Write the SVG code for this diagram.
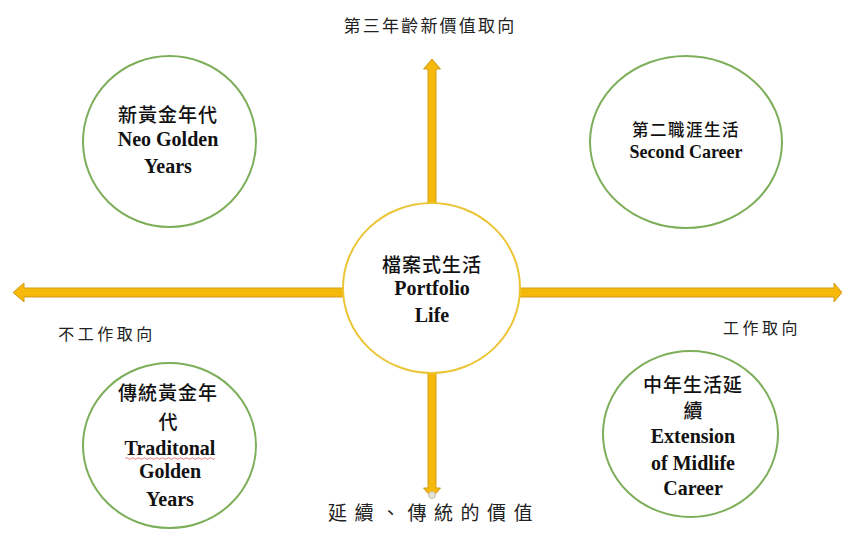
<svg xmlns="http://www.w3.org/2000/svg" width="842" height="539" viewBox="0 0 842 539">
<style>
.arrow{fill:#F7B80C;stroke:#CF9D1C;stroke-width:1;stroke-linejoin:miter}
.green{fill:#FFFFFF;stroke:#7DAE5A;stroke-width:2}
.gold{fill:#FFFFFF;stroke:#EBC536;stroke-width:2}
.zh{font-family:"Noto Sans CJK TC","Noto Sans CJK SC",sans-serif;font-weight:500;fill:#111;text-anchor:middle}
.en{font-family:"Liberation Serif","Times New Roman",serif;font-weight:bold;fill:#111;text-anchor:middle}
.lbl{font-family:"Noto Sans CJK TC","Noto Sans CJK SC",sans-serif;fill:#222;text-anchor:middle}
</style>
<rect width="842" height="539" fill="#FFFFFF"/>
<g id="connectors">
  <polygon class="arrow" points="432,59 440.5,69 436,69 436,488 440.5,488 432,498 423.5,488 428,488 428,69 423.5,69"/>
  <polygon class="arrow" points="13,292.5 24,283 24,288 834,288 834,283 842,292.5 834,302 834,297 24,297 24,302"/>
  <circle cx="432" cy="495" r="3.5" fill="#E8E3D6" stroke="#B8B2A4" stroke-width="0.8"/>
</g>
<g id="label-top"><text class="lbl" x="430" y="32" font-size="17" letter-spacing="2.2">第三年齡新價值取向</text></g>
<g id="label-left"><text class="lbl" x="107" y="340" font-size="16" letter-spacing="3.5">不工作取向</text></g>
<g id="label-right"><text class="lbl" x="762" y="334" font-size="16" letter-spacing="3.5">工作取向</text></g>
<g id="label-bottom"><text class="lbl" x="434" y="520" font-size="19" letter-spacing="7.5">延續、傳統的價值</text></g>
<g id="center-portfolio">
  <ellipse class="gold" cx="431.5" cy="288" rx="88.5" ry="85"/>
  <text class="zh" x="432" y="272" font-size="19" letter-spacing="1">檔案式生活</text>
  <text class="en" x="432" y="295" font-size="20">Portfolio</text>
  <text class="en" x="432" y="322" font-size="20">Life</text>
</g>
<g id="neo-golden">
  <ellipse class="green" cx="169.5" cy="141.5" rx="86.5" ry="85.5"/>
  <text class="zh" x="168" y="122" font-size="19" letter-spacing="1">新黃金年代</text>
  <text class="en" x="168" y="146" font-size="20">Neo Golden</text>
  <text class="en" x="168" y="173" font-size="20">Years</text>
</g>
<g id="second-career">
  <ellipse class="green" cx="686" cy="142" rx="96" ry="86"/>
  <text class="zh" x="686" y="136" font-size="16.5" letter-spacing="1.5">第二職涯生活</text>
  <text class="en" x="686" y="158" font-size="18">Second Career</text>
</g>
<g id="traditional-golden">
  <ellipse class="green" cx="169.5" cy="445.5" rx="86.5" ry="82.5"/>
  <text class="zh" x="168" y="400" font-size="19" letter-spacing="1">傳統黃金年</text>
  <text class="zh" x="168" y="429" font-size="19">代</text>
  <text class="en" x="170" y="455" font-size="20">Traditonal</text>
  <path d="M125,458.5 q1.5,-1.5 3,0 t3,0 t3,0 t3,0 t3,0 t3,0 t3,0 t3,0 t3,0 t3,0 t3,0 t3,0 t3,0 t3,0 t3,0 t3,0 t3,0 t3,0 t3,0 t3,0 t3,0 t3,0 t3,0 t3,0 t3,0 t3,0 t3,0 t3,0 t3,0 t3,0" fill="none" stroke="#E05A5A" stroke-width="0.8"/>
  <text class="en" x="170" y="478" font-size="20">Golden</text>
  <text class="en" x="170" y="506" font-size="20">Years</text>
</g>
<g id="midlife-extension">
  <ellipse class="green" cx="690.5" cy="434" rx="87.5" ry="83"/>
  <text class="zh" x="693" y="392" font-size="19" letter-spacing="1">中年生活延</text>
  <text class="zh" x="693" y="418" font-size="19">續</text>
  <text class="en" x="693" y="443" font-size="20">Extension</text>
  <text class="en" x="693" y="470" font-size="20">of Midlife</text>
  <text class="en" x="693" y="495" font-size="20">Career</text>
</g>
</svg>
